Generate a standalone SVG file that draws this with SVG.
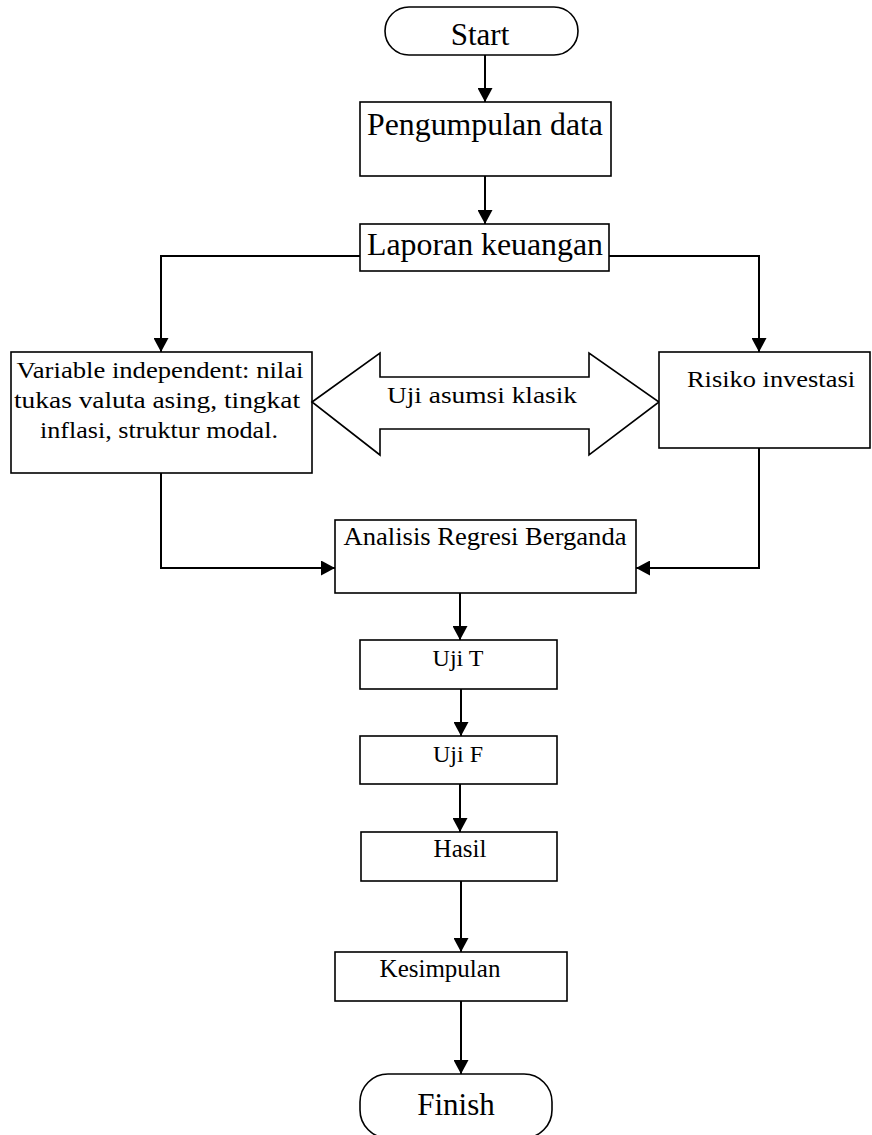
<svg xmlns="http://www.w3.org/2000/svg" width="872" height="1135" viewBox="0 0 872 1135">
<style>
  .box { fill: #fff; stroke: #000; stroke-width: 1.6; }
  .conn { fill: none; stroke: #000; stroke-width: 2; }
  text { font-family: "Liberation Serif", "Times New Roman", serif; fill: #000; text-anchor: middle; }
  .big { font-size: 31px; }
  .mid { font-size: 25px; }
  .sm { font-size: 24px; }
</style>
<defs>
  <marker id="ah" viewBox="0 0 14 15" refX="14" refY="7.5" markerWidth="14" markerHeight="15" markerUnits="userSpaceOnUse" orient="auto">
    <path d="M0,0 L14,7.5 L0,15 z" fill="#000"/>
  </marker>
</defs>
<rect width="872" height="1135" fill="#fff"/>
<g id="connectors">
  <path class="conn" d="M485,55 V102" marker-end="url(#ah)"/>
  <path class="conn" d="M485,176 V224" marker-end="url(#ah)"/>
  <path class="conn" d="M360,256 H161 V352" marker-end="url(#ah)"/>
  <path class="conn" d="M609,256 H759 V352" marker-end="url(#ah)"/>
  <path class="conn" d="M161,473 V568 H335" marker-end="url(#ah)"/>
  <path class="conn" d="M759,448 V568 H636" marker-end="url(#ah)"/>
  <path class="conn" d="M460,593 V640" marker-end="url(#ah)"/>
  <path class="conn" d="M461,689 V736" marker-end="url(#ah)"/>
  <path class="conn" d="M460,784 V832" marker-end="url(#ah)"/>
  <path class="conn" d="M461,881 V952" marker-end="url(#ah)"/>
  <path class="conn" d="M461,1001 V1074" marker-end="url(#ah)"/>
</g>
<g id="start">
  <rect class="box" x="385" y="7" width="193" height="48" rx="24" ry="24"/>
  <text class="big" x="480" y="45">Start</text>
</g>
<g id="pengumpulan">
  <rect class="box" x="360" y="102" width="251" height="74"/>
  <text class="big" x="485" y="135" textLength="236" lengthAdjust="spacingAndGlyphs">Pengumpulan data</text>
</g>
<g id="laporan">
  <rect class="box" x="360" y="224" width="249" height="47"/>
  <text class="big" x="485" y="255" textLength="236" lengthAdjust="spacingAndGlyphs">Laporan keuangan</text>
</g>
<g id="variable">
  <rect class="box" x="11" y="352" width="301" height="121"/>
  <text class="sm" x="160" y="378" textLength="287" lengthAdjust="spacingAndGlyphs">Variable independent: nilai</text>
  <text class="sm" x="157" y="408" textLength="286" lengthAdjust="spacingAndGlyphs">tukas valuta asing, tingkat</text>
  <text class="sm" x="159" y="438" textLength="238" lengthAdjust="spacingAndGlyphs">inflasi, struktur modal.</text>
</g>
<g id="uji-asumsi">
  <polygon class="box" points="312,402 380,353 380,377 589,377 589,353 659,402 589,455 589,429 380,429 380,455"/>
  <text class="sm" x="482" y="403" textLength="190" lengthAdjust="spacingAndGlyphs">Uji asumsi klasik</text>
</g>
<g id="risiko">
  <rect class="box" x="659" y="352" width="211" height="96"/>
  <text class="sm" x="771" y="387" textLength="168" lengthAdjust="spacingAndGlyphs">Risiko investasi</text>
</g>
<g id="analisis">
  <rect class="box" x="335" y="520" width="301" height="73"/>
  <text class="mid" x="485" y="545" textLength="283" lengthAdjust="spacingAndGlyphs">Analisis Regresi Berganda</text>
</g>
<g id="uji-t">
  <rect class="box" x="360" y="640" width="197" height="49"/>
  <text class="sm" x="458" y="666">Uji T</text>
</g>
<g id="uji-f">
  <rect class="box" x="360" y="736" width="197" height="48"/>
  <text class="sm" x="458" y="762">Uji F</text>
</g>
<g id="hasil">
  <rect class="box" x="361" y="832" width="196" height="49"/>
  <text class="mid" x="460" y="857">Hasil</text>
</g>
<g id="kesimpulan">
  <rect class="box" x="335" y="952" width="232" height="49"/>
  <text class="mid" x="440" y="977">Kesimpulan</text>
</g>
<g id="finish">
  <rect class="box" x="360" y="1074" width="192" height="64" rx="28" ry="28"/>
  <text class="big" x="456" y="1115">Finish</text>
</g>
</svg>
